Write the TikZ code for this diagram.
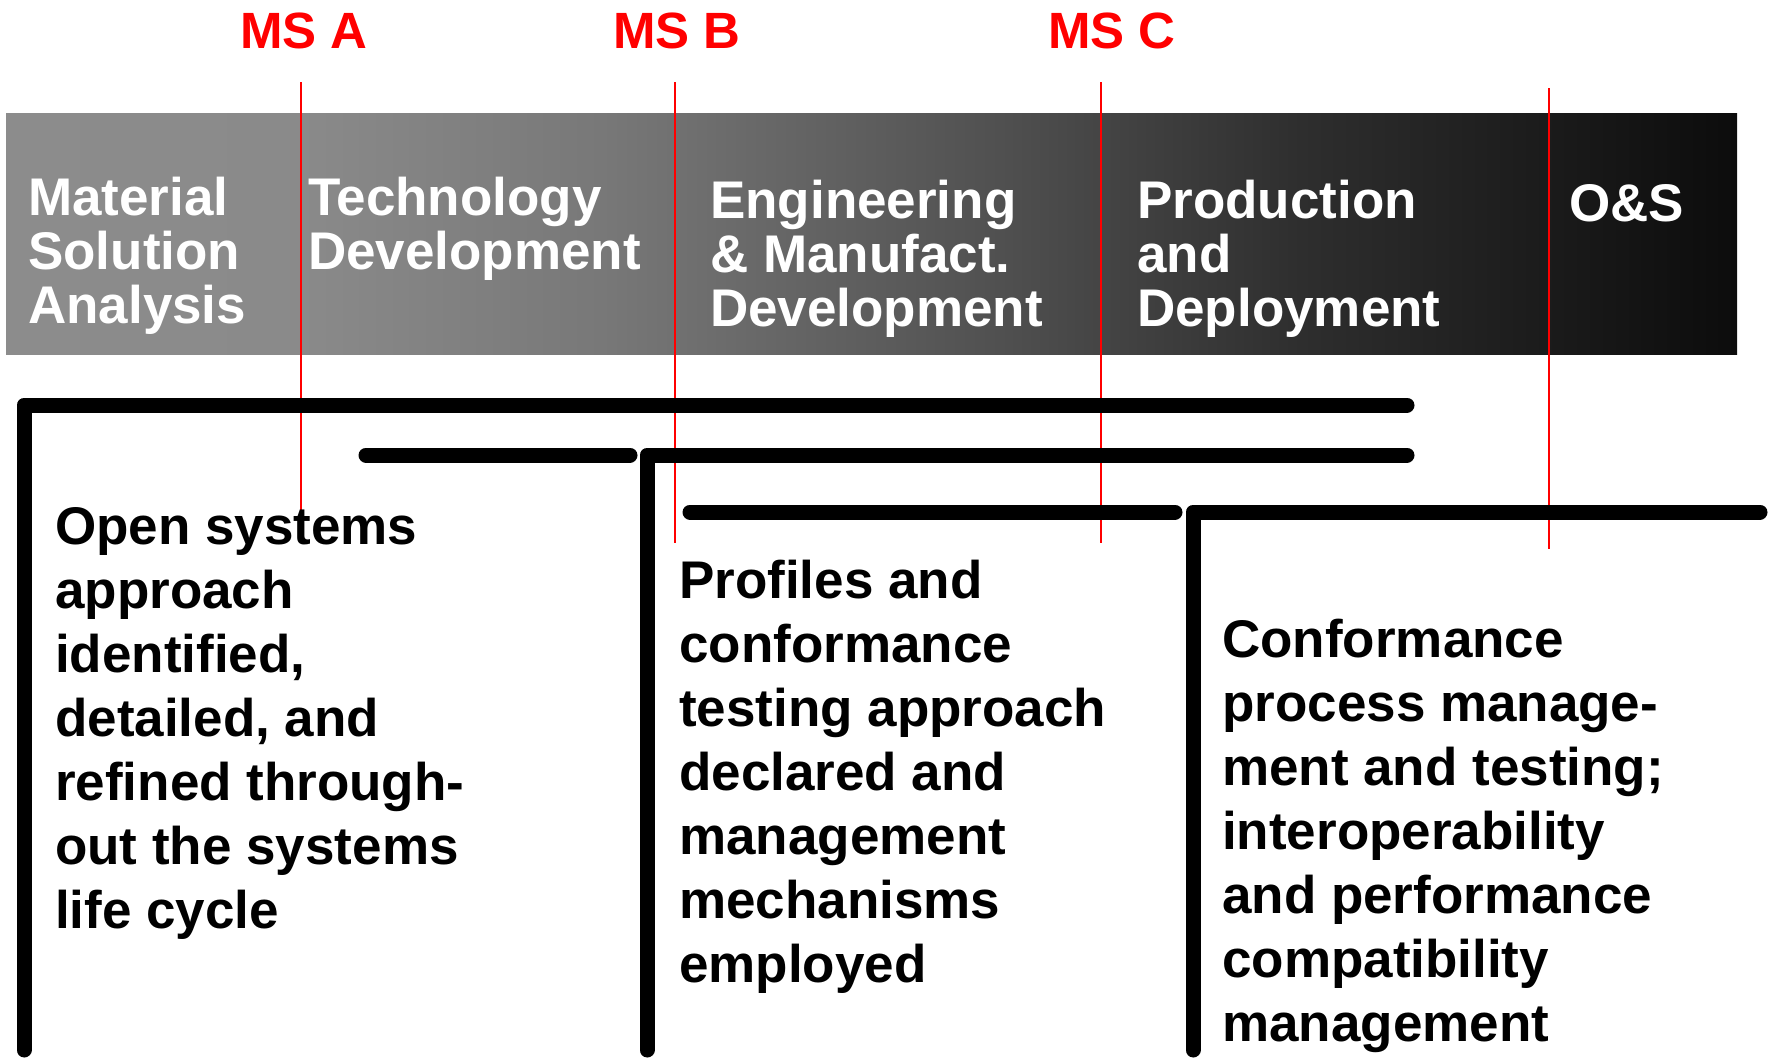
\documentclass[tikz,border=0pt]{standalone}
\usepackage{fontspec}
\setmainfont{Liberation Sans}
\definecolor{msred}{RGB}{255,0,0}
\definecolor{shA}{RGB}{140,140,140}
\definecolor{shB}{RGB}{138,138,138}
\definecolor{shC}{RGB}{120,120,120}
\definecolor{shD}{RGB}{80,80,80}
\definecolor{shE}{RGB}{46,46,46}
\definecolor{shF}{RGB}{12,12,12}
\pgfdeclarehorizontalshading{phaseshade}{100bp}{color(0bp)=(shA); color(25bp)=(shA);
  color(33.5bp)=(shB); color(42.2bp)=(shC); color(53.7bp)=(shD);
  color(62.4bp)=(shE); color(75bp)=(shF); color(100bp)=(shF)}
\begin{document}
\begin{tikzpicture}[x=1pt,y=-1pt,
    phase/.style={anchor=base west,inner sep=0,text=white,align=left,
      font=\fontsize{53}{54}\selectfont\bfseries},
    body/.style={anchor=base west,inner sep=0,align=left,
      font=\fontsize{53}{64}\selectfont\bfseries},
    ms/.style={anchor=base,inner sep=0,text=msred,
      font=\fontsize{51}{51}\selectfont\bfseries},
    msline/.style={msred,line width=2pt},
    bar/.style={line width=15pt,line cap=round,line join=round}]
  \useasboundingbox (0,0) rectangle (1773,1058);
  % phase banner (nodes sit on the baseline of their last line)
  \shade[shading=phaseshade] (6,113) rectangle (1737,354);
  \node[phase] (msa) at (28,323) {Material\\Solution\\Analysis};
  \node[phase] (td) at (308,269) {Technology\\Development};
  \node[phase] (emd) at (710,326) {Engineering\\\& Manufact.\\Development};
  \node[phase] (pd) at (1137,326) {Production\\and\\Deployment};
  \node[phase] (os) at (1569,221) {O\&S};
  % milestones
  \node[ms] (msA) at (304,48) {MS A};
  \node[ms] (msB) at (677,48) {MS B};
  \node[ms] (msC) at (1112,48) {MS C};
  \draw[msline] (301,82) -- (301,511);
  \draw[msline] (674.5,82) -- (674.5,543);
  \draw[msline] (1101,82) -- (1101,543);
  \draw[msline] (1549,88) -- (1549,549);
  % brackets
  \draw[bar] (24,1050) -- (24,405) -- (1407,405);
  \draw[bar] (366,455) -- (630,455);
  \draw[bar] (647,1050) -- (647,455) -- (1407,455);
  \draw[bar] (690,512) -- (1175,512);
  \draw[bar] (1193,1050) -- (1193,512) -- (1760,512);
  % descriptions
  \node[body] (open) at (55,928) {Open systems\\approach\\identified,\\detailed, and\\refined through-\\out the systems\\life cycle};
  \node[body] (prof) at (679,982) {Profiles and\\conformance\\testing approach\\declared and\\management\\mechanisms\\employed};
  \node[body] (conf) at (1222,1041) {Conformance\\process manage-\\ment and testing;\\interoperability\\and performance\\compatibility\\management};
\end{tikzpicture}
\end{document}
